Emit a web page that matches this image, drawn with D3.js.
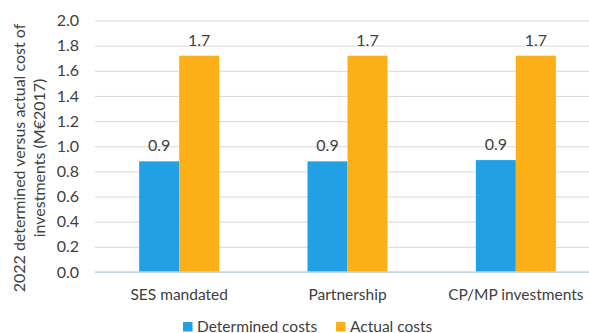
<!DOCTYPE html>
<html><head><meta charset="utf-8">
<script src="https://cdn.jsdelivr.net/npm/d3@7"></script>
<style>body{margin:0;background:#fff}svg{display:block}text{font-family:Lato,sans-serif;fill:#404040}</style>
</head><body><svg id="c" width="589" height="333"></svg>
<script>
const categories = ["SES mandated", "Partnership", "CP/MP investments"];
const seriesNames = ["Determined costs", "Actual costs"];
const determined = [0.88, 0.88, 0.89];
const actual = [1.72, 1.72, 1.72];
const yTicks = [0, 0.2, 0.4, 0.6, 0.8, 1.0, 1.2, 1.4, 1.6, 1.8, 2.0];
const colors = ["#21A0E5", "#FCAF17"];

const svg = d3.select("#c");
const x0 = d3.scaleBand().domain(categories).range([95, 600]).paddingInner(0).paddingOuter(0);
const x1 = d3.scaleBand().domain(seriesNames).range([0, 80]);
const y = d3.scaleLinear().domain([0, 2]).range([272, 20.5]);
const FONT = "Lato";

const yAxis = d3.axisLeft(y).tickValues(yTicks).tickFormat(d3.format(".1f")).tickSize(-(600-95)).tickPadding(16);
const gy = svg.append("g").attr("transform", "translate(95,0)").call(yAxis);
gy.select(".domain").remove();
gy.selectAll(".tick line").attr("stroke", "#d9d9d9").attr("stroke-width", 1);
gy.selectAll(".tick text").style("font-size", "16px").attr("fill", "#404040").attr("font-family", FONT);

const data = categories.map((c, i) => ({c, vals: [determined[i], actual[i]]}));
const groups = svg.append("g").selectAll("g").data(data).join("g")
  .attr("transform", d => `translate(${x0(d.c) + x0.bandwidth()/2 - 40},0)`);
groups.selectAll("rect").data(d => d.vals.map((v, j) => ({v, s: seriesNames[j], j})))
  .join("rect")
  .attr("x", d => x1(d.s)).attr("width", x1.bandwidth())
  .attr("y", d => y(d.v)).attr("height", d => y(0) - y(d.v))
  .attr("fill", d => colors[d.j]);
groups.selectAll("text.lbl").data(d => d.vals.map((v, j) => ({v, s: seriesNames[j]})))
  .join("text").attr("class", "lbl")
  .attr("x", d => x1(d.s) + x1.bandwidth()/2).attr("y", d => y(d.v) - 10)
  .attr("text-anchor", "middle").style("font-size", "16px")
  .text(d => d3.format(".1f")(d.v));

// baseline
svg.append("line").attr("x1", 95).attr("x2", 600).attr("y1", y(0)).attr("y2", y(0)).attr("stroke", "#BDD7EE").attr("stroke-width", 1.5);

// x axis labels
const xAxis = d3.axisBottom(x0).tickSize(0).tickPadding(17);
const gx = svg.append("g").attr("transform", `translate(0,${y(0)})`).call(xAxis);
gx.select(".domain").remove();
gx.selectAll(".tick text").style("font-size", "15.5px").attr("fill", "#404040").attr("font-family", FONT);

// y title
const yt = svg.append("text").attr("transform", "translate(0,158) rotate(-90)").attr("text-anchor", "middle").style("font-size", "16px");
yt.append("tspan").attr("x", 0).attr("y", 25).text("2022 determined versus actual cost of");
yt.append("tspan").attr("x", 0).attr("y", 45).text("investments (M€2017)");

// legend
const legX = [183, 336];
const leg = svg.append("g").selectAll("g").data(seriesNames).join("g")
  .attr("transform", (d, i) => `translate(${legX[i]},322)`);
leg.append("rect").attr("width", 9.5).attr("height", 9.5).attr("fill", (d, i) => colors[i]);
leg.append("text").attr("x", 14).attr("y", 9.5).style("font-size", "15.5px").text(d => d);
</script></body></html>
